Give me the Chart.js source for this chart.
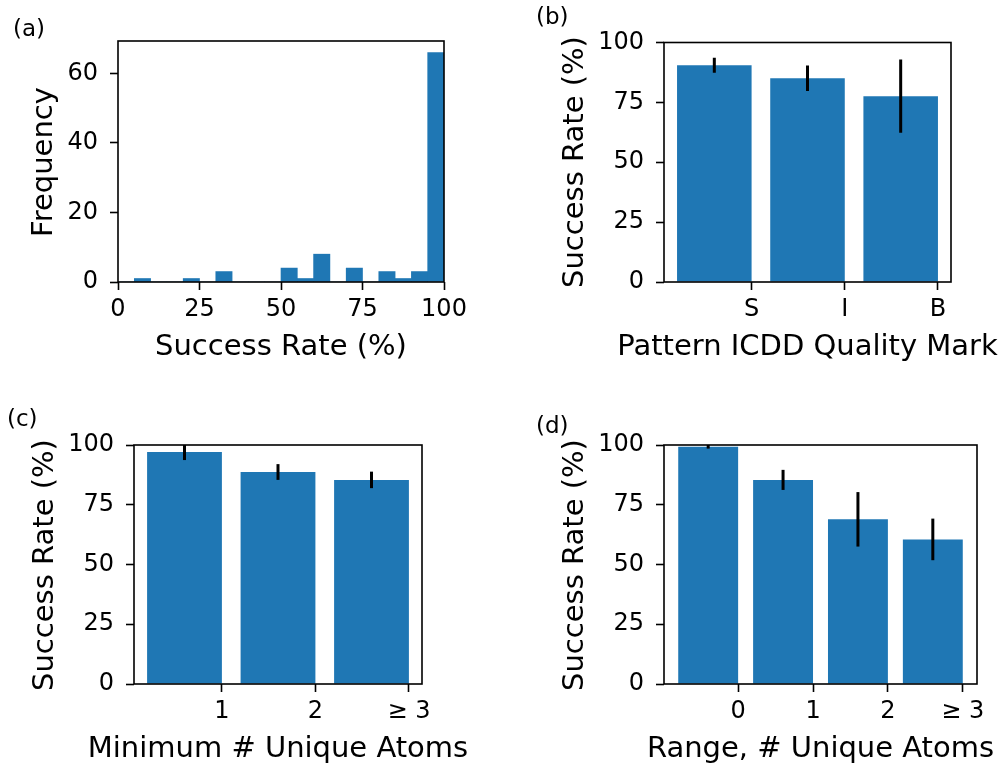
<!DOCTYPE html>
<html>
<head>
<meta charset="utf-8">
<script src="https://cdn.jsdelivr.net/npm/chart.js@4.4.1/dist/chart.umd.min.js"></script>
<style>
body { margin:0; background:#fff; width:1003px; height:765px; overflow:hidden; position:relative; font-family:'DejaVu Sans'; color:#000; }
canvas { position:absolute; }
.lbl { position:absolute; white-space:nowrap; line-height:1; }
.panel { font-size:23px; }
.xt { font-size:29px; transform:translateX(-50%); }
.yt { font-size:29px; transform:translate(-50%,-50%) rotate(-90deg); }
</style>
</head>
<body>
<canvas id="chartA" width="490" height="385" style="left:0;top:0"></canvas>
<canvas id="chartB" width="503" height="385" style="left:500px;top:0"></canvas>
<canvas id="chartC" width="490" height="375" style="left:0;top:390px"></canvas>
<canvas id="chartD" width="503" height="375" style="left:500px;top:390px"></canvas>

<div class="lbl panel" style="left:13px;top:17px">(a)</div>
<div class="lbl panel" style="left:536px;top:5px">(b)</div>
<div class="lbl panel" style="left:7px;top:407px">(c)</div>
<div class="lbl panel" style="left:536px;top:414px">(d)</div>

<div class="lbl xt" style="left:281px;top:330.5px">Success Rate (%)</div>
<div class="lbl xt" style="left:807.5px;top:330.5px">Pattern ICDD Quality Mark</div>
<div class="lbl xt" style="left:278px;top:732.5px">Minimum # Unique Atoms</div>
<div class="lbl xt" style="left:820.5px;top:732.5px">Range, # Unique Atoms</div>

<div class="lbl yt" style="left:41.5px;top:161.5px">Frequency</div>
<div class="lbl yt" style="left:573px;top:162px">Success Rate (%)</div>
<div class="lbl yt" style="left:43px;top:564.5px">Success Rate (%)</div>
<div class="lbl yt" style="left:573px;top:564.5px">Success Rate (%)</div>

<script>
// (a) histogram of success rates, bins of width 5
const histBins = [2.5, 7.5, 12.5, 17.5, 22.5, 27.5, 32.5, 37.5, 42.5, 47.5,
                  52.5, 57.5, 62.5, 67.5, 72.5, 77.5, 82.5, 87.5, 92.5, 97.5];
const histCounts = [0, 1, 0, 0, 1, 0, 3, 0, 0, 0, 4, 1, 8, 0, 4, 0, 3, 1, 3, 66];
const histXTicks = [0, 25, 50, 75, 100];
const histYTicks = [0, 20, 40, 60];
const histYMax = 69.3;

// (b) quality mark
const qualityLabels = ['S', 'I', 'B'];
const qualityRate = [90.5, 85.1, 77.6];
const qualityErr = [3.1, 5.3, 15.3];

// (c) minimum # unique atoms
const minAtomsLabels = ['1', '2', '≥ 3'];
const minAtomsRate = [97.1, 88.7, 85.4];
const minAtomsErr = [3.4, 3.3, 3.45];

// (d) range, # unique atoms
const rangeLabels = ['0', '1', '2', '≥ 3'];
const rangeRate = [99.3, 85.4, 68.9, 60.5];
const rangeErr = [0.8, 4.2, 11.4, 8.7];

const rateYTicks = [0, 25, 50, 75, 100];

const BLUE = '#1f77b4';
const BAR_W = 0.8;
const tickFont = {family: 'DejaVu Sans', size: 24};

Chart.defaults.font.family = 'DejaVu Sans';
Chart.defaults.color = '#000';

function gridOpts(){
    return {offset: false, drawOnChartArea: false, drawTicks: true, tickLength: 8, tickWidth: 1.6, tickColor: '#000'};
}

function xAxis(min, max, tickValues, labels, height){
    return {
        type: 'linear', min: min, max: max, offset: false,
        grid: gridOpts(),
        border: {display: false},
        ticks: {
            font: tickFont, color: '#000', padding: 5.6, autoSkip: false, maxRotation: 0,
            callback: function(v, i){ return labels ? labels[i] : String(v); }
        },
        afterBuildTicks: function(s){ s.ticks = tickValues.map(v => ({value: v})); },
        afterFit: function(s){ s.height = height; }
    };
}

function yAxis(max, tickValues, width){
    return {
        type: 'linear', min: 0, max: max,
        grid: gridOpts(),
        border: {display: false},
        ticks: {font: tickFont, color: '#000', padding: 12, autoSkip: false},
        afterBuildTicks: function(s){ s.ticks = tickValues.map(v => ({value: v})); },
        afterFit: function(s){ s.width = width; }
    };
}

// error bars + axes frame, drawn on top of the bars
const framePlugin = {
    id: 'frame',
    afterDatasetsDraw(chart){
        let a = chart.chartArea;
        let ctx = chart.ctx;
        let ds = chart.data.datasets[0];
        if (ds.errors){
            let meta = chart.getDatasetMeta(0);
            let y = chart.scales.y;
            ctx.save();
            ctx.beginPath();
            ctx.rect(a.left, a.top, a.right - a.left, a.bottom - a.top);
            ctx.clip();
            ctx.strokeStyle = '#000';
            ctx.lineWidth = 3;
            meta.data.forEach(function(bar, i){
                let v = ds.data[i].y;
                ctx.beginPath();
                ctx.moveTo(bar.x, y.getPixelForValue(v + ds.errors[i]));
                ctx.lineTo(bar.x, y.getPixelForValue(v - ds.errors[i]));
                ctx.stroke();
            });
            ctx.restore();
        }
        ctx.save();
        ctx.strokeStyle = '#000';
        ctx.lineWidth = 1.6;
        ctx.strokeRect(a.left, a.top, a.right - a.left, a.bottom - a.top);
        ctx.restore();
    }
};

function baseOptions(padding, scales){
    return {
        responsive: false,
        animation: false,
        layout: {padding: padding},
        plugins: {legend: {display: false}, tooltip: {enabled: false}},
        scales: scales
    };
}

// histogram
new Chart(document.getElementById('chartA'), {
    type: 'bar',
    data: {
        datasets: [{
            data: histBins.map((b, i) => ({x: b, y: histCounts[i]})),
            backgroundColor: BLUE,
            borderWidth: 0,
            barPercentage: 1,
            categoryPercentage: 1
        }]
    },
    options: baseOptions({left: 0, top: 41, right: 46, bottom: 0}, {
        x: xAxis(0, 100, histXTicks, null, 103),
        y: yAxis(histYMax, histYTicks, 118)
    }),
    plugins: [framePlugin]
});

function rateChart(id, labels, rates, errs, padding, xHeight, yWidth){
    let n = labels.length;
    let margin = 0.05 * (n - 1 + BAR_W);
    let positions = labels.map((l, i) => i);
    new Chart(document.getElementById(id), {
        type: 'bar',
        data: {
            datasets: [{
                data: rates.map((r, i) => ({x: positions[i] - BAR_W / 2, y: r})),
                errors: errs,
                backgroundColor: BLUE,
                borderWidth: 0,
                barPercentage: 1,
                categoryPercentage: BAR_W
            }]
        },
        options: baseOptions(padding, {
            x: xAxis(-BAR_W - margin, n - 1 + margin, positions, labels, xHeight),
            y: yAxis(100, rateYTicks, yWidth)
        }),
        plugins: [framePlugin]
    });
}

rateChart('chartB', qualityLabels, qualityRate, qualityErr, {left: 0, top: 42.5, right: 52, bottom: 0}, 103, 164);
rateChart('chartC', minAtomsLabels, minAtomsRate, minAtomsErr, {left: 0, top: 55, right: 68, bottom: 0}, 81, 134);
rateChart('chartD', rangeLabels, rangeRate, rangeErr, {left: 0, top: 55, right: 26, bottom: 0}, 81, 164);
</script>
</body>
</html>
